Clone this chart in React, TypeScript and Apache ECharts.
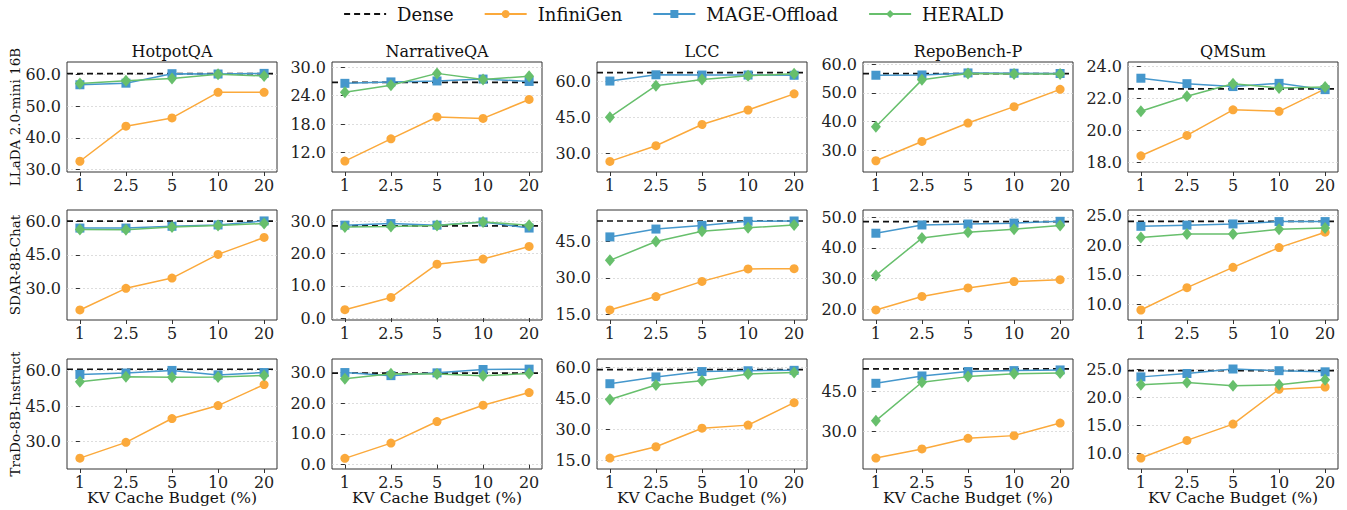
import React, { useEffect, useRef } from 'react';
import * as echarts from 'echarts';

const budgets = ['1', '2.5', '5', '10', '20'];
const datasets = ['HotpotQA', 'NarrativeQA', 'LCC', 'RepoBench-P', 'QMSum'];
const models = ['LLaDA 2.0-mini 16B', 'SDAR-8B-Chat', 'TraDo-8B-Instruct'];
const methods = ['Dense', 'InfiniGen', 'MAGE-Offload', 'HERALD'];

// Dense baseline per model, per dataset
const denseLLaDA = [60.3, 26.8, 63.5, 56.65, 22.6];
const denseSDAR = [60.1, 28.6, 53.3, 48.6, 24.04];
const denseTraDo = [60.6, 29.7, 59.0, 53.4, 24.7];

// InfiniGen
const infLLaDA = [
  [32.6, 43.7, 46.3, 54.4, 54.4],
  [10.2, 14.9, 19.5, 19.2, 23.2],
  [26.7, 33.2, 42.0, 48.0, 54.7],
  [26.4, 33.1, 39.5, 45.2, 51.2],
  [18.43, 19.7, 21.29, 21.2, 22.6],
];
const infSDAR = [
  [20.3, 30.0, 34.6, 45.2, 52.8],
  [2.6, 6.4, 16.7, 18.3, 22.2],
  [16.9, 22.4, 28.6, 33.7, 33.8],
  [19.7, 24.1, 26.9, 29.0, 29.6],
  [9.04, 12.82, 16.26, 19.6, 22.2],
];
const infTraDo = [
  [22.9, 29.6, 39.7, 45.2, 54.1],
  [2.06, 7.0, 14.0, 19.3, 23.4],
  [16.1, 21.6, 30.6, 32.1, 43.0],
  [20.0, 23.4, 27.4, 28.4, 33.1],
  [9.17, 12.3, 15.2, 21.4, 21.8],
];

// MAGE-Offload
const mageLLaDA = [
  [56.8, 57.3, 60.3, 60.2, 60.4],
  [26.6, 26.9, 27.1, 27.5, 27.0],
  [60.0, 62.6, 62.5, 62.5, 62.4],
  [56.1, 56.2, 56.9, 56.8, 56.7],
  [23.26, 22.92, 22.74, 22.94, 22.55],
];
const mageSDAR = [
  [57.0, 57.0, 57.8, 58.4, 60.2],
  [28.8, 29.3, 28.8, 29.8, 27.9],
  [46.8, 50.0, 51.5, 53.2, 53.3],
  [44.8, 47.5, 47.8, 48.1, 48.7],
  [23.2, 23.4, 23.6, 24.0, 24.0],
];
const mageTraDo = [
  [58.4, 59.0, 60.1, 58.2, 59.2],
  [29.9, 28.9, 29.8, 30.9, 31.0],
  [52.2, 55.5, 58.1, 58.5, 58.7],
  [48.0, 50.75, 52.4, 52.75, 53.0],
  [23.6, 24.2, 25.0, 24.7, 24.5],
];

// HERALD
const heraldLLaDA = [
  [57.2, 58.1, 58.8, 60.1, 59.6],
  [24.7, 26.2, 28.7, 27.4, 28.1],
  [45.0, 58.1, 60.6, 62.2, 63.0],
  [38.2, 54.5, 56.7, 56.5, 56.5],
  [21.2, 22.14, 22.92, 22.65, 22.72],
];
const heraldSDAR = [
  [56.4, 56.3, 57.5, 58.1, 59.1],
  [28.2, 28.4, 28.7, 29.8, 28.8],
  [37.2, 44.9, 49.1, 50.5, 51.7],
  [31.0, 43.2, 45.1, 46.1, 47.3],
  [21.3, 21.9, 21.9, 22.7, 22.9],
];
const heraldTraDo = [
  [55.3, 57.4, 57.2, 57.3, 58.0],
  [27.9, 29.5, 29.4, 28.9, 29.6],
  [44.5, 51.6, 53.7, 56.9, 57.6],
  [34.0, 48.4, 50.5, 51.6, 51.9],
  [22.2, 22.6, 22.0, 22.2, 23.1],
];

// y-axis ranges and tick labels per panel
const yRangeLLaDA = [[29.2, 64.0], [7.9, 31.1], [22.3, 67.9], [22.5, 60.7], [17.42, 24.27]];
const yRangeSDAR = [[15.8, 65.1], [-0.6, 33.5], [12.8, 57.8], [16.4, 52.4], [7.35, 25.96]];
const yRangeTraDo = [[18.3, 64.95], [-1.4, 34.3], [10.8, 64.2], [15.9, 57.1], [7.21, 26.78]];
const yTicksLLaDA = [[30, 40, 50, 60], [12, 18, 24, 30], [30, 45, 60], [30, 40, 50, 60], [18, 20, 22, 24]];
const yTicksSDAR = [[30, 45, 60], [0, 10, 20, 30], [15, 30, 45], [20, 30, 40, 50], [10, 15, 20, 25]];
const yTicksTraDo = [[30, 45, 60], [0, 10, 20, 30], [15, 30, 45, 60], [30, 45], [10, 15, 20, 25]];

const dense = [denseLLaDA, denseSDAR, denseTraDo];
const inf = [infLLaDA, infSDAR, infTraDo];
const mage = [mageLLaDA, mageSDAR, mageTraDo];
const herald = [heraldLLaDA, heraldSDAR, heraldTraDo];
const yRanges = [yRangeLLaDA, yRangeSDAR, yRangeTraDo];
const yTicks = [yTicksLLaDA, yTicksSDAR, yTicksTraDo];

const FONT = 'DejaVu Serif';
const COLORS = { dense: '#111111', inf: '#fba93b', mage: '#4597cc', herald: '#67bf6c' };

const colLeft = [67, 332, 597, 863, 1128];
const rowTop = [62, 210, 359];
const PW = 210;
const PH = 110;
const XMIN = -0.28;
const XMAX = 4.28;

function buildOption() {
  const grid: any[] = [];
  const xAxis: any[] = [];
  const yAxis: any[] = [];
  const series: any[] = [];
  const graphic: any[] = [];
  let idx = 0;
  for (let r = 0; r < 3; r++) {
    for (let c = 0; c < 5; c++) {
      grid.push({
        left: colLeft[c], top: rowTop[r], width: PW, height: PH,
        show: true, borderColor: '#333', borderWidth: 1, backgroundColor: 'transparent',
      });
      xAxis.push({
        type: 'value', gridIndex: idx, min: XMIN, max: XMAX,
        axisLine: { show: false },
        axisTick: { show: true, customValues: [0, 1, 2, 3, 4], length: 4, lineStyle: { color: '#333' } },
        axisLabel: {
          customValues: [0, 1, 2, 3, 4], formatter: (v: number) => budgets[Math.round(v)],
          fontFamily: FONT, fontSize: 16, color: '#222', margin: 5,
        },
        splitLine: { show: false },
      });
      const ticks = yTicks[r][c];
      yAxis.push({
        type: 'value', gridIndex: idx, min: yRanges[r][c][0], max: yRanges[r][c][1],
        axisLine: { show: false },
        axisTick: { show: true, customValues: ticks, length: 4, lineStyle: { color: '#333' } },
        axisLabel: {
          customValues: ticks, formatter: (v: number) => v.toFixed(1),
          fontFamily: FONT, fontSize: 16, color: '#222', margin: 6,
        },
        splitLine: { show: true, lineStyle: { color: '#d4d4d4', type: [2, 2], width: 0.8 } },
      });
      const pts = (arr: number[]) => arr.map((v, i) => [i, v]);
      series.push({
        name: 'Dense', type: 'line', xAxisIndex: idx, yAxisIndex: idx,
        data: [[XMIN, dense[r][c]], [XMAX, dense[r][c]]],
        symbol: 'none', lineStyle: { color: COLORS.dense, type: [6, 4], width: 1.7 },
        itemStyle: { color: COLORS.dense }, z: 5,
      });
      series.push({
        name: 'InfiniGen', type: 'line', xAxisIndex: idx, yAxisIndex: idx,
        data: pts(inf[r][c]),
        symbol: 'circle', symbolSize: 9,
        lineStyle: { color: COLORS.inf, width: 1.5 },
        itemStyle: { color: COLORS.inf }, z: 6,
      });
      series.push({
        name: 'MAGE-Offload', type: 'line', xAxisIndex: idx, yAxisIndex: idx,
        data: pts(mage[r][c]),
        symbol: 'rect', symbolSize: 9,
        lineStyle: { color: COLORS.mage, width: 1.5 },
        itemStyle: { color: COLORS.mage }, z: 7,
      });
      series.push({
        name: 'HERALD', type: 'line', xAxisIndex: idx, yAxisIndex: idx,
        data: pts(herald[r][c]),
        symbol: 'diamond', symbolSize: [10, 12],
        lineStyle: { color: COLORS.herald, width: 1.5 },
        itemStyle: { color: COLORS.herald }, z: 8,
      });
      idx++;
    }
  }
  for (let c = 0; c < 5; c++) {
    graphic.push({
      type: 'text', x: colLeft[c] + PW / 2, y: 51,
      style: { text: datasets[c], fontFamily: FONT, fontSize: 16, fill: '#111', align: 'center', verticalAlign: 'middle' },
    });
    graphic.push({
      type: 'text', x: colLeft[c] + PW / 2, y: 498,
      style: { text: 'KV Cache Budget (%)', fontFamily: FONT, fontSize: 15.5, fill: '#111', align: 'center', verticalAlign: 'middle' },
    });
  }
  for (let r = 0; r < 3; r++) {
    graphic.push({
      type: 'text', x: 15, y: rowTop[r] + PH / 2, rotation: Math.PI / 2,
      style: { text: models[r], fontFamily: FONT, fontSize: 13.5, fill: '#111', align: 'center', verticalAlign: 'middle' },
    });
  }
  return {
    animation: false,
    backgroundColor: '#ffffff',
    legend: {
      data: [
        { name: methods[0], itemStyle: { opacity: 0 } },
        methods[1], methods[2], methods[3],
      ],
      top: 0, left: 'center', itemWidth: 42, itemHeight: 10, itemGap: 30,
      textStyle: { fontFamily: FONT, fontSize: 18, color: '#111', padding: [0, 0, 0, 6] },
    },
    grid, xAxis, yAxis, series, graphic,
  };
}

export default function App() {
  const ref = useRef<HTMLDivElement>(null);
  useEffect(() => {
    document.body.style.margin = '0';
    const chart = echarts.init(ref.current!, null, { renderer: 'svg' });
    chart.setOption(buildOption());
    return () => chart.dispose();
  }, []);
  return <div ref={ref} style={{ position: 'absolute', left: 0, top: 0, width: 1347, height: 510 }} />;
}
